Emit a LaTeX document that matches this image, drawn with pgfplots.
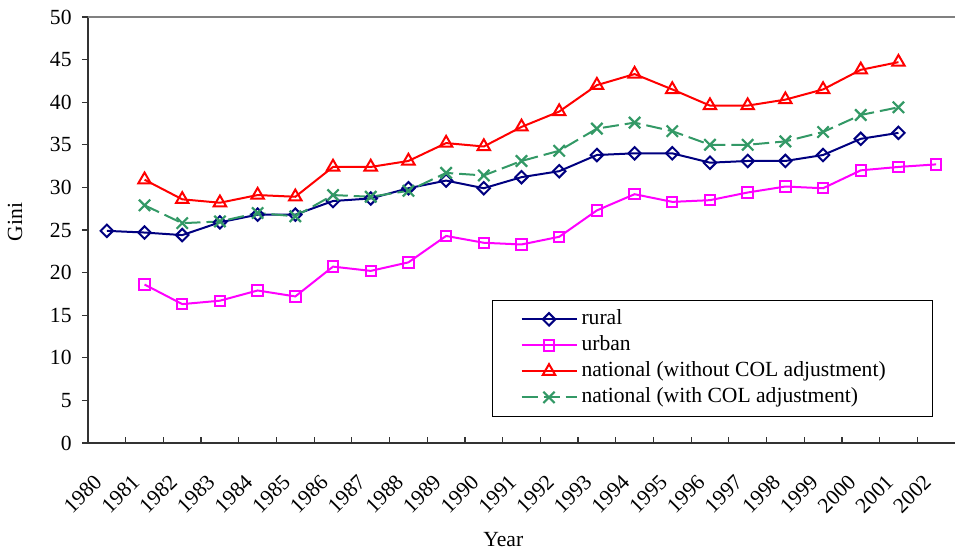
\documentclass[border=0pt]{standalone}
\usepackage{pgfplots}
\pgfplotsset{compat=1.18}
\usepackage{fontspec}
\setmainfont{Liberation Serif}
\definecolor{rural}{RGB}{0,0,128}
\definecolor{urban}{RGB}{255,0,255}
\definecolor{natA}{RGB}{255,0,0}
\definecolor{natB}{RGB}{51,153,102}
\begin{document}
\begin{tikzpicture}
\begin{axis}[
  name=ax,
  scale only axis, width=433.5pt, height=213pt,
  xmin=0, xmax=23, ymin=0, ymax=50,
  axis x line*=bottom, axis y line*=left,
  axis line style={black!80, line width=0.75pt},
  font=\fontsize{10.8}{12}\selectfont,
  /pgf/number format/assume math mode=true,
  ytick={0,5,...,50},
  ytick align=outside, major tick length=3pt,
  y tick style={black!80, line width=0.6pt},
  yticklabel style={inner sep=0pt, xshift=-5pt},
  xtick={0.5,1.5,...,22.5},
  xticklabels={1980,1981,1982,1983,1984,1985,1986,1987,1988,1989,1990,1991,1992,1993,1994,1995,1996,1997,1998,1999,2000,2001,2002},
  major x tick style={draw=none},
  minor xtick={1,2,...,22},
  minor tick length=3pt,
  xtick align=inside,
  minor x tick style={black!80, line width=0.6pt},
  xticklabel style={xshift=-7pt, yshift=-15pt, rotate=45, anchor=north east, inner sep=0pt},
  every axis x label/.style={at={(rel axis cs:0.479,0)}, anchor=center, yshift=-48.5pt},
  every axis y label/.style={at={(rel axis cs:0,0.519)}, anchor=center, xshift=-36.5pt, rotate=90},
  xlabel={Year}, ylabel={Gini},
  clip=false,
  legend style={at={(rel axis cs:0.466,0.336)}, anchor=north west, draw=black, line width=0.5pt,
    font=\fontsize{10.8}{12}\selectfont, inner xsep=8pt, inner ysep=3pt, row sep=0pt,
    nodes={text height=7.5pt, text depth=2.3pt, inner ysep=1.6pt}},
  legend cell align=left,
  legend image code/.code={\path (0pt,0pt); \draw[mark repeat=2,mark phase=2,#1] plot coordinates {(6pt,0pt) (19.75pt,0pt) (33.5pt,0pt)};},
]
\draw[black!50, line width=0.75pt] (rel axis cs:0,1) -- (rel axis cs:1,1);
\addplot[rural, line width=1pt, mark=square, mark size=2.2pt, mark options={rotate=45, fill=white, solid}] coordinates {
(0.5,24.9) (1.5,24.7) (2.5,24.4) (3.5,25.9) (4.5,26.8) (5.5,26.8) (6.5,28.4) (7.5,28.7) (8.5,29.9) (9.5,30.8) (10.5,29.9) (11.5,31.2) (12.5,31.9) (13.5,33.8) (14.5,34.0) (15.5,34.0) (16.5,32.9) (17.5,33.1) (18.5,33.1) (19.5,33.8) (20.5,35.7) (21.5,36.4)};
\addlegendentry{rural}
\addplot[urban, line width=1pt, mark=square, mark size=2.6pt, mark options={fill=white, solid}] coordinates {
(1.5,18.6) (2.5,16.3) (3.5,16.7) (4.5,17.9) (5.5,17.2) (6.5,20.7) (7.5,20.2) (8.5,21.2) (9.5,24.3) (10.5,23.5) (11.5,23.3) (12.5,24.2) (13.5,27.3) (14.5,29.2) (15.5,28.3) (16.5,28.5) (17.5,29.4) (18.5,30.1) (19.5,29.9) (20.5,32.0) (21.5,32.4) (22.5,32.7)};
\addlegendentry{urban}
\addplot[natA, line width=1pt, mark=triangle, mark size=3.6pt, mark options={fill=white, solid}] coordinates {
(1.5,30.9) (2.5,28.6) (3.5,28.2) (4.5,29.1) (5.5,28.9) (6.5,32.4) (7.5,32.4) (8.5,33.1) (9.5,35.2) (10.5,34.8) (11.5,37.1) (12.5,38.9) (13.5,42.0) (14.5,43.3) (15.5,41.5) (16.5,39.6) (17.5,39.6) (18.5,40.3) (19.5,41.5) (20.5,43.8) (21.5,44.7)};
\addlegendentry{national (without COL adjustment)\hspace{13.5pt}\mbox{}}
\addplot[natB, line width=1pt, dash pattern=on 8pt off 3pt, mark=x, mark size=4pt, mark options={solid, line width=1.1pt}] coordinates {
(1.5,27.9) (2.5,25.8) (3.5,26.0) (4.5,27.0) (5.5,26.6) (6.5,29.1) (7.5,28.9) (8.5,29.6) (9.5,31.7) (10.5,31.4) (11.5,33.1) (12.5,34.3) (13.5,36.9) (14.5,37.6) (15.5,36.6) (16.5,35.0) (17.5,35.0) (18.5,35.4) (19.5,36.5) (20.5,38.5) (21.5,39.4)};
\addlegendentry{national (with COL adjustment)}
\end{axis}
\pgfresetboundingbox
\path ([shift={(-44pt,-53pt)}]ax.south west) rectangle ([shift={(0pt,8.5pt)}]ax.north east);
\end{tikzpicture}
\end{document}
